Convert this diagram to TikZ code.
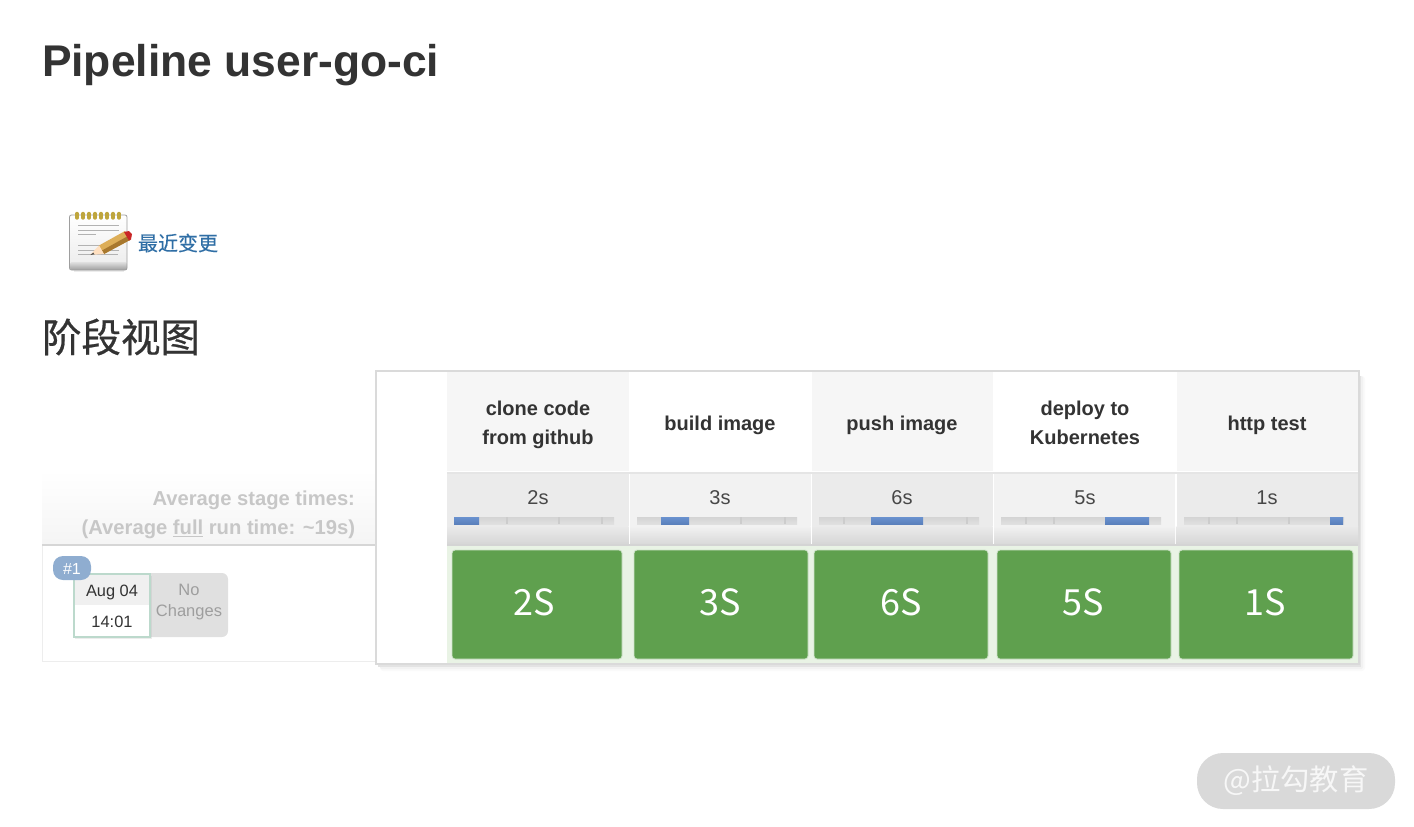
\documentclass[tikz,border=0pt]{standalone}
\usepackage{fontspec}
\setmainfont{Liberation Sans}
\newfontfamily\cjkfont{Noto Sans CJK SC}
\newfontfamily\cjkheavy[FakeBold=0.6]{Noto Sans CJK SC}
\newfontfamily\cjklink[FakeBold=0.25]{Noto Sans CJK SC}
\usetikzlibrary{positioning}
\definecolor{inkdark}{HTML}{333333}
\definecolor{stagegreen}{HTML}{5FA04E}
\definecolor{rowgreen}{HTML}{E9F3E5}
\definecolor{barblue}{HTML}{6A92CF}
\definecolor{barbluedark}{HTML}{5A80BC}
\definecolor{bargray}{HTML}{E0E0E0}
\definecolor{bargraydark}{HTML}{D4D4D4}
\definecolor{linkblue}{HTML}{2F6EA5}
\definecolor{badgeblue}{HTML}{8FADD0}
\definecolor{cardline}{HTML}{DADADA}
\definecolor{datebox}{HTML}{BCD9CC}
\definecolor{ringgold}{HTML}{BFA63E}
\definecolor{pencilwood}{HTML}{DDAE58}
\definecolor{pencildark}{HTML}{A8782E}
\begin{document}
\begin{tikzpicture}[
        x=1pt, y=-1pt,
        txt/.style={inner sep=0pt, outer sep=0pt},
        headtext/.style={txt, text=inkdark, align=center, font=\fontsize{20}{29}\selectfont\bfseries},
        timetext/.style={txt, text=inkdark!90, font=\fontsize{20}{24}\selectfont},
        bigtext/.style={txt, text=white, font=\cjkfont\fontsize{36}{40}\selectfont},
        avgtext/.style={txt, text=black!22, align=right, font=\fontsize{20.2}{29}\selectfont\bfseries},
        greencell/.style={fill=stagegreen, draw=white!70!stagegreen, line width=0.8pt, rounded corners=3pt},
        bartrack/.style={top color=bargraydark, bottom color=bargray, draw=none},
        barpart/.style={top color=barblue, bottom color=barbluedark, draw=none},
        bartick/.style={draw=black!20, line width=1.2pt},
        noteline/.style={draw=black!30, line width=1pt},
        ring/.style={draw=ringgold, line width=3.4pt, line cap=round}]
        \useasboundingbox (0,0) rectangle (1414,827);
        % Titles
        \node[txt, anchor=west, text=inkdark, font=\fontsize{44.4}{48}\selectfont\bfseries] (title) at (42,65) {Pipeline user-go-ci};
        \node[txt, anchor=west, text=linkblue, font=\cjklink\fontsize{20}{24}\selectfont] (changes) at (138,243) {最近变更};
        \node[txt, anchor=west, text=inkdark, font=\cjkheavy\fontsize{39.5}{44}\selectfont] (stageview) at (42,337) {阶段视图};
        % Notepad icon
        \fill[black!25, opacity=0.3] (74,269) rectangle (124,272);
        \shade[top color=white, bottom color=black!7, rounded corners=2pt] (70,215) rectangle (127,264);
        \shade[top color=black!12, bottom color=black!38, rounded corners=2pt] (70,262) rectangle (127,270);
        \draw[black!38, line width=0.8pt, rounded corners=2pt] (69.5,215) rectangle (127,270);
        \draw[ring] (77,213.5) -- (77,218);
        \draw[ring] (83,213.5) -- (83,218);
        \draw[ring] (89,213.5) -- (89,218);
        \draw[ring] (95,213.5) -- (95,218);
        \draw[ring] (101,213.5) -- (101,218);
        \draw[ring] (107,213.5) -- (107,218);
        \draw[ring] (113,213.5) -- (113,218);
        \draw[ring] (119,213.5) -- (119,218);
        \draw[noteline] (78,225) -- (119,225);
        \draw[noteline] (78,230) -- (119,230);
        \draw[noteline] (78,234.5) -- (96,234.5);
        \draw[noteline] (78,245) -- (116,245);
        \draw[noteline] (78,250) -- (119,250);
        \draw[noteline] (78,254.5) -- (118,254.5);
        \fill[pencilwood] (99,245.5) -- (125,231) -- (130,240) -- (104,254) -- cycle;
        \fill[pencildark] (102,250.5) -- (128,236) -- (130,240) -- (104,254) -- cycle;
        \fill[red!75!black!85] (124,232) -- (129,231) -- (132,234) -- (131,239.5) -- (129,240.5) -- cycle;
        \fill[orange!25!white] (99,245.5) -- (104,254) -- (90,255) -- cycle;
        \fill[black!65] (90,255) -- (93.5,252.5) -- (94.5,254.5) -- cycle;
        % Left panel
        \shade[top color=white, bottom color=black!4] (42,470) rectangle (376,544);
        \draw[black!16, line width=2pt] (42,545) -- (376,545);
        \draw[black!7, line width=1pt] (42,546) -- (42,661) -- (376,661);
        \node[avgtext, anchor=east] (avg) at (355,515) {Average stage times:\\(Average \underline{full} run time: \textasciitilde 19s)};
        % Build card
        \fill[black!12, rounded corners=6pt] (140,573) rectangle (228,637);
        \node[txt, text=black!38, align=center, font=\fontsize{16.5}{21}\selectfont] (nochanges) at (189,602) {No\\Changes};
        \fill[black!30, opacity=0.25] (75,576) rectangle (152,639);
        \fill[white] (74,574) rectangle (150,637);
        \fill[black!6] (74,574) rectangle (150,605);
        \draw[datebox, line width=1.3pt] (74,574) rectangle (150,637);
        \node[txt, text=inkdark, font=\fontsize{16.4}{20}\selectfont] (date) at (112,592) {Aug 04};
        \node[txt, text=inkdark, font=\fontsize{16.4}{20}\selectfont] (clock) at (112,621.5) {14:01};
        \fill[badgeblue, rounded corners=10pt] (53,556) rectangle (91,580);
        \node[txt, text=white, font=\fontsize{16}{20}\selectfont] (badge) at (72,568.5) {\#1};
        % Card shadow and frame
        \fill[black!2, rounded corners=3pt] (380,376) rectangle (1365,671);
        \fill[black!5, rounded corners=2pt] (380,376) rectangle (1363,669);
        \fill[black!11] (378,376) rectangle (1361,667);
        \fill[white, draw=cardline, line width=2pt] (376,371) rectangle (1359,664);
        % Header row
        \fill[black!3.5] (447,372) rectangle (628.5,471);
        \fill[white] (630,372) rectangle (810.5,471);
        \fill[black!3.5] (812,372) rectangle (992.5,471);
        \fill[white] (994,372) rectangle (1175,471);
        \fill[black!3.5] (1176.5,372) rectangle (1358,471);
        \node[headtext] (head_clone) at (538,425) {clone code\\from github};
        \node[headtext] (head_build) at (720,425) {build image};
        \node[headtext] (head_push) at (902,425) {push image};
        \node[headtext] (head_deploy) at (1085,423) {deploy to\\Kubernetes};
        \node[headtext] (head_http) at (1267,425) {http test};
        \draw[black!10, line width=2pt] (447,473) -- (1358,473);
        % Time row
        \fill[black!8] (447,474) rectangle (628.5,526);
        \fill[black!5] (630,474) rectangle (810.5,526);
        \fill[black!8] (812,474) rectangle (992.5,526);
        \fill[black!5] (994,474) rectangle (1175,526);
        \fill[black!8] (1176.5,474) rectangle (1358,526);
        \shade[top color=black!8, bottom color=black!16] (447,526) rectangle (628.5,544);
        \shade[top color=black!5, bottom color=black!15] (630,526) rectangle (810.5,544);
        \shade[top color=black!8, bottom color=black!16] (812,526) rectangle (992.5,544);
        \shade[top color=black!5, bottom color=black!15] (994,526) rectangle (1175,544);
        \shade[top color=black!8, bottom color=black!16] (1176.5,526) rectangle (1358,544);
        \draw[black!17, line width=2pt] (447,545) -- (1358,545);
        \node[timetext] (time_clone) at (538,498) {2s};
        \node[timetext] (time_build) at (720,498) {3s};
        \node[timetext] (time_push) at (902,498) {6s};
        \node[timetext] (time_deploy) at (1085,498) {5s};
        \node[timetext] (time_http) at (1267,498) {1s};
        % Progress bars
        \shade[bartrack] (454,517) rectangle (614,524);
        \draw[bartick] (507,517) -- (507,524);
        \draw[bartick] (559,517) -- (559,524);
        \draw[bartick] (602,517) -- (602,524);
        \shade[barpart] (454,517) rectangle (479,524);
        \shade[bartrack] (637,517) rectangle (797,524);
        \draw[bartick] (741,517) -- (741,524);
        \draw[bartick] (785,517) -- (785,524);
        \shade[barpart] (661,517) rectangle (689,524);
        \shade[bartrack] (819,517) rectangle (979,524);
        \draw[bartick] (844,517) -- (844,524);
        \draw[bartick] (967,517) -- (967,524);
        \shade[barpart] (871,517) rectangle (923,524);
        \shade[bartrack] (1001,517) rectangle (1161,524);
        \draw[bartick] (1026,517) -- (1026,524);
        \draw[bartick] (1054,517) -- (1054,524);
        \shade[barpart] (1105,517) rectangle (1149,524);
        \shade[bartrack] (1184,517) rectangle (1344,524);
        \draw[bartick] (1209,517) -- (1209,524);
        \draw[bartick] (1237,517) -- (1237,524);
        \draw[bartick] (1289,517) -- (1289,524);
        \shade[barpart] (1330,517) rectangle (1343,524);
        % Stage cells
        \fill[rowgreen] (447,546) rectangle (1358,663);
        \draw[greencell] (452,550) rectangle (622,659);
        \draw[greencell] (634,550) rectangle (808,659);
        \draw[greencell] (814,550) rectangle (988,659);
        \draw[greencell] (997,550) rectangle (1171,659);
        \draw[greencell] (1179,550) rectangle (1353,659);
        \node[bigtext] (cell_clone) at (534,602) {2S};
        \node[bigtext] (cell_build) at (720,602) {3S};
        \node[bigtext] (cell_push) at (901,602) {6S};
        \node[bigtext] (cell_deploy) at (1083,602) {5S};
        \node[bigtext] (cell_http) at (1265,602) {1S};
        % Watermark
        \node[fill=black!15, rounded corners=26pt, minimum width=198pt, minimum height=56pt, inner sep=0pt, text=white!80!black!15, font=\cjkfont\fontsize{29.3}{32}\selectfont] (mark) at (1296,781) {\raisebox{-2pt}{@拉勾教育}};
      \end{tikzpicture}
\end{document}
